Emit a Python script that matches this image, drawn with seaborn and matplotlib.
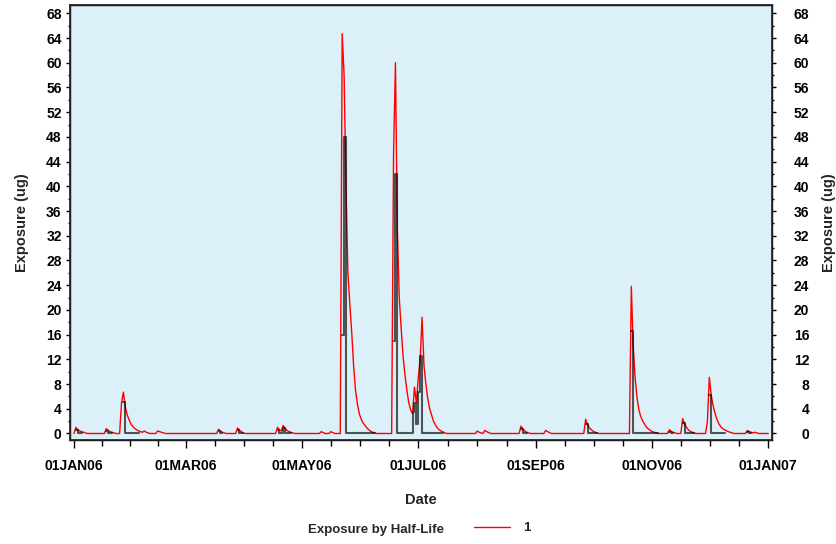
import numpy as np
import pandas as pd
import matplotlib
matplotlib.use("Agg")
import matplotlib.pyplot as plt
import matplotlib.dates as mdates
from matplotlib.lines import Line2D
from matplotlib.ticker import MultipleLocator
import seaborn as sns

# exposure with half-life decay (red), daily values starting at each date
red_start = ["2006-01-02", "2006-01-18", "2006-01-26", "2006-02-14", "2006-03-18",
             "2006-03-28", "2006-04-18", "2006-05-11", "2006-05-16", "2006-05-22",
             "2006-06-18", "2006-08-01", "2006-08-05", "2006-08-24", "2006-09-06",
             "2006-09-27", "2006-10-21", "2006-11-10", "2006-11-17", "2006-11-30",
             "2006-12-21", "2006-12-25"]
red_vals = [
    [1.0, 0.6, 0.4, 0.3, 0.2, 0.1],
    [0.8, 0.5, 0.3, 0.2, 0.1],
    [5.0, 6.7, 4.2, 3.0, 2.2, 1.5, 1.1, 0.8, 0.6, 0.4, 0.3, 0.2, 0.4, 0.2, 0.1],
    [0.4, 0.3, 0.2, 0.1],
    [0.7, 0.4, 0.2, 0.1],
    [0.9, 0.5, 0.3, 0.1],
    [1.0, 0.6, 0.4, 1.3, 0.8, 0.5, 0.3, 0.2, 0.1],
    [0.3, 0.15],
    [0.3, 0.15],
    [64.7, 58, 40, 26, 21, 16.4, 11, 7, 4.8, 3.2, 2.3, 1.7, 1.3, 0.9, 0.6, 0.35, 0.2, 0.1],
    [45, 60, 33, 22, 17, 12.5, 9.5, 7, 5, 3.8, 3.2, 7.5, 5, 9, 12, 18.8, 11, 8, 5.6, 4,
     3, 2, 1.4, 0.9, 0.6, 0.4, 0.25, 0.1],
    [0.4, 0.2, 0.1],
    [0.5, 0.3, 0.15],
    [1.2, 0.7, 0.4, 0.2, 0.1],
    [0.5, 0.3, 0.15],
    [2.3, 1.4, 0.9, 0.6, 0.35, 0.2, 0.1],
    [23.8, 14, 9, 5.8, 3.8, 2.7, 2.0, 1.5, 1.0, 0.75, 0.5, 0.3, 0.2, 0.1],
    [0.6, 0.35, 0.2, 0.1],
    [2.4, 1.5, 1.0, 0.6, 0.35, 0.2, 0.1],
    [2.0, 9.1, 6.2, 4.5, 3.3, 2.3, 1.6, 1.1, 0.8, 0.6, 0.45, 0.3, 0.2, 0.1],
    [0.5, 0.3, 0.2, 0.1],
    [0.2, 0.1],
]

# daily exposure (black steps), number of zero days drawn after each
black_start = ["2006-01-02", "2006-01-18", "2006-01-27", "2006-03-18", "2006-03-28",
               "2006-04-18", "2006-05-22", "2006-06-18", "2006-08-24", "2006-09-27",
               "2006-10-21", "2006-11-10", "2006-11-17", "2006-12-01", "2006-12-21"]
black_vals = [
    [0.5], [0.4], [5.1], [0.4], [0.5],
    [0.6, 0, 0, 0.9],
    [16, 48],
    [15, 42, 0, 0, 0, 0, 0, 0, 0, 0, 3.5, 5, 1.5, 6.7, 12.5],
    [0.8], [1.6], [16.6], [0.3], [1.7], [6.3], [0.3],
]
black_tail = [3, 3, 8, 2, 3, 4, 16, 12, 3, 6, 14, 2, 6, 8, 2]

x_ticks = ["2006-01-01", "2006-03-01", "2006-05-01", "2006-07-01",
           "2006-09-01", "2006-11-01", "2007-01-01"]
x_tick_labels = ["01JAN06", "01MAR06", "01MAY06", "01JUL06", "01SEP06", "01NOV06", "01JAN07"]

days = pd.date_range("2006-01-01", "2007-01-01", freq="D")
red = np.zeros(len(days))
for start, vals in zip(red_start, red_vals):
    i = days.get_loc(pd.Timestamp(start))
    red[i:i + len(vals)] = vals

sns.set_theme(style="ticks")
plt.rcParams["font.family"] = ["Liberation Sans", "DejaVu Sans"]
plt.rcParams["font.weight"] = "bold"

fig = plt.figure(figsize=(8.36, 5.44), dpi=100)
ax = fig.add_axes([0.0837, 0.1912, 0.8394, 0.7996])
ax.set_facecolor("#DCF0FA")

sns.lineplot(x=days, y=red, ax=ax, color="#FF0000", linewidth=1.0, estimator=None)
for start, vals, tail in zip(black_start, black_vals, black_tail):
    seg = list(vals) + [0] * tail
    seg_days = pd.date_range(start, periods=len(seg), freq="D")
    sns.lineplot(x=seg_days, y=seg, ax=ax, color="black", alpha=0.65, linewidth=1.5,
                 drawstyle="steps-post", estimator=None)

x0 = mdates.date2num(pd.Timestamp("2006-01-01"))
ax.set_xlim(x0 - 2.1, x0 + 366.8)
ax.set_ylim(-1.05, 69.34)

major = [mdates.date2num(pd.Timestamp(d)) for d in x_ticks]
minor = []
for a, b in zip(major[:-1], major[1:]):
    minor += [a + (b - a) * k / 4 for k in (1, 2, 3)]
ax.set_xticks(major)
ax.set_xticklabels(x_tick_labels)
ax.set_xticks(minor, minor=True)

yt = list(range(0, 69, 4))
ax.set_yticks(yt)
ax.yaxis.set_minor_locator(MultipleLocator(2))

for s in ax.spines.values():
    s.set_color("black")
    s.set_linewidth(1)

ax.tick_params(axis="x", which="major", length=6, width=1, pad=8, labelsize=10, colors="black")
ax.tick_params(axis="x", which="minor", length=4.3, width=1, color="black")
ax.tick_params(axis="y", which="major", length=3, width=1, pad=3, labelsize=10, colors="black")
ax.tick_params(axis="y", which="minor", length=1.5, width=1, color="black")

ax2 = ax.twinx()
ax2.set_ylim(ax.get_ylim())
ax2.set_yticks(yt, labels=[str(v) for v in yt], ha="right")
ax2.yaxis.set_minor_locator(MultipleLocator(2))
ax2.tick_params(axis="y", which="major", length=3, width=1, pad=24, labelsize=10, colors="black")
ax2.tick_params(axis="y", which="minor", length=1.5, width=1, color="black")

ax.set_xlabel("Date", fontsize=10.5, fontweight="bold", labelpad=14)
ax.set_ylabel("Exposure (ug)", fontsize=10.5, fontweight="bold", labelpad=12)
ax2.set_ylabel("Exposure (ug)", fontsize=10.5, fontweight="bold", labelpad=9)

fig.text(376 / 836, 1 - 530 / 544, "Exposure by Half-Life", ha="center", va="center",
         fontsize=9.5, fontweight="bold")
fig.legend(handles=[Line2D([], [], color="#FF0000", linewidth=1)], labels=["1"],
           loc="center left", bbox_to_anchor=(474 / 836, 1 - 528 / 544),
           frameon=False, borderpad=0, borderaxespad=0, handlelength=2.75,
           handletextpad=1.0, prop={"size": 9.5, "weight": "bold"})

fig.savefig("out.png", dpi=100)
